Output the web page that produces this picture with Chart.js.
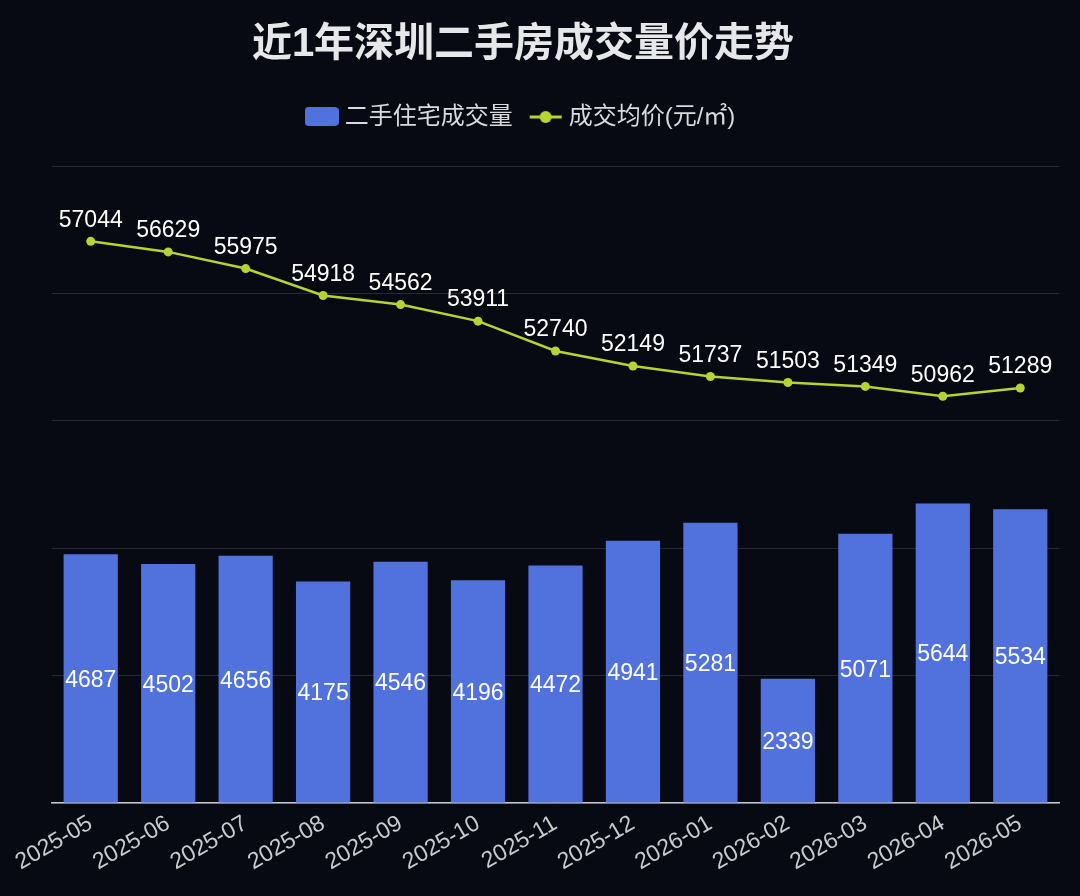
<!DOCTYPE html>
<html>
<head>
<meta charset="utf-8">
<script src="https://cdn.jsdelivr.net/npm/chart.js@4.4.1/dist/chart.umd.min.js"></script>
<style>
  html, body { margin: 0; padding: 0; background: #070a12; }
  #wrap { width: 1080px; height: 896px; }
</style>
</head>
<body>
<div id="wrap"><canvas id="chart"></canvas></div>
<script>
'use strict';

const FONT = "'Liberation Sans', 'Noto Sans CJK SC', sans-serif";
Chart.defaults.font.family = FONT;
Chart.defaults.color = '#d0d3d8';

/* 数据 */
const MONTHS = ['2025-05','2025-06','2025-07','2025-08','2025-09','2025-10','2025-11',
                '2025-12','2026-01','2026-02','2026-03','2026-04','2026-05'];
const VOLUME = [4687, 4502, 4656, 4175, 4546, 4196, 4472, 4941, 5281, 2339, 5071, 5644, 5534];
const PRICE  = [57044, 56629, 55975, 54918, 54562, 53911, 52740, 52149, 51737, 51503, 51349, 50962, 51289];

const COLORS = {
  bar  : '#5172dd',
  line : '#b6d334',
  grid : '#262a33',
  axis : '#c4c7cc',
  text : '#ffffff',
};

/* 图例图标 */
function legendIcon(kind) {
  const c = document.createElement('canvas');
  c.width = 34; c.height = 22;
  const g = c.getContext('2d');
  if (kind === 'bar') {
    g.fillStyle = COLORS.bar;
    g.beginPath();
    g.roundRect(0, 1, 34, 19, 4);
    g.fill();
  } else {
    g.strokeStyle = COLORS.line;
    g.lineWidth = 3;
    g.beginPath(); g.moveTo(1, 11); g.lineTo(33, 11); g.stroke();
    g.fillStyle = COLORS.line;
    g.beginPath(); g.arc(17, 11, 6, 0, Math.PI * 2); g.fill();
  }
  return c;
}
const ICONS = [legendIcon('bar'), legendIcon('line')];

/* 数值标签 */
const valueLabels = {
  id: 'valueLabels',
  afterDatasetsDraw(chart) {
    const ctx = chart.ctx;
    ctx.save();
    ctx.fillStyle = COLORS.text;
    ctx.font = '23px ' + FONT;
    ctx.textAlign = 'center';
    ctx.textBaseline = 'middle';
    const bars = chart.getDatasetMeta(0).data;
    bars.forEach((el, i) => ctx.fillText(String(VOLUME[i]), el.x, (el.y + el.base) / 2 + 2));
    const pts = chart.getDatasetMeta(1).data;
    pts.forEach((el, i) => ctx.fillText(String(PRICE[i]), el.x, el.y - 21));
    ctx.restore();
  },
};

/* 图例与图表之间留空 */
const legendGap = {
  id: 'legendGap',
  beforeInit(chart) {
    const fit = chart.legend.fit;
    chart.legend.fit = function () { fit.bind(this)(); this.height += 27; };
  },
};

new Chart(document.getElementById('chart'), {
  data: {
    labels: MONTHS,
    datasets: [
      {
        type: 'bar',
        label: '二手住宅成交量',
        data: VOLUME,
        backgroundColor: COLORS.bar,
        categoryPercentage: 0.8,
        barPercentage: 0.875,
        yAxisID: 'y',
        order: 2,
      },
      {
        type: 'line',
        label: '成交均价(元/㎡)',
        data: PRICE,
        borderColor: COLORS.line,
        backgroundColor: COLORS.line,
        borderWidth: 2.5,
        pointRadius: 4.5,
        pointBorderWidth: 0,
        tension: 0,
        yAxisID: 'y1',
        order: 1,
      },
    ],
  },
  options: {
    responsive: true, maintainAspectRatio: false,
    animation: false,
    // 标题/图例居中于 x≈522，绘图区仍从 52 开始
    layout: { padding: { left: -13, right: 21, top: 0, bottom: 0 } },
    plugins: {
      title: {
        display: true,
        text: '近1年深圳二手房成交量价走势',
        color: '#e6e7e9',
        font: { size: 40, weight: 'bold', lineHeight: 1.2 },
        padding: { top: 21, bottom: 14 },
      },
      legend: {
        display: true,
        labels: {
          usePointStyle: true,
          pointStyleWidth: 22,
          color: '#d8dadd',
          font: { size: 24 },
          padding: 22,
          generateLabels: chart => chart.data.datasets.map((ds, i) => ({
            text: ds.label,
            pointStyle: ICONS[i],
            fontColor: '#d8dadd',
            datasetIndex: i,
            hidden: false,
            lineWidth: 0,
          })),
        },
      },
      tooltip: { enabled: false },
    },
    scales: {
      x: {
        grid: { display: false, drawTicks: false },
        border: { display: true, color: COLORS.axis, width: 1.5 },
        ticks: {
          color: '#c8cacd',
          font: { size: 23 },
          maxRotation: 30, minRotation: 30,
          padding: 7,
          autoSkip: false,
        },
        afterFit: scale => { scale.height = 93; },
      },
      y: {
        position: 'left',
        min: 0, max: 12000,
        ticks: { display: false, stepSize: 2400 },
        grid: { color: COLORS.grid, lineWidth: 1, drawTicks: false },
        border: { display: false },
        afterFit: scale => { scale.width = 65; },
      },
      y1: {
        position: 'right',
        display: false,
        min: 35000, max: 60000,
        grid: { display: false },
      },
    },
  },
  plugins: [valueLabels, legendGap],
});
</script>
</body>
</html>
